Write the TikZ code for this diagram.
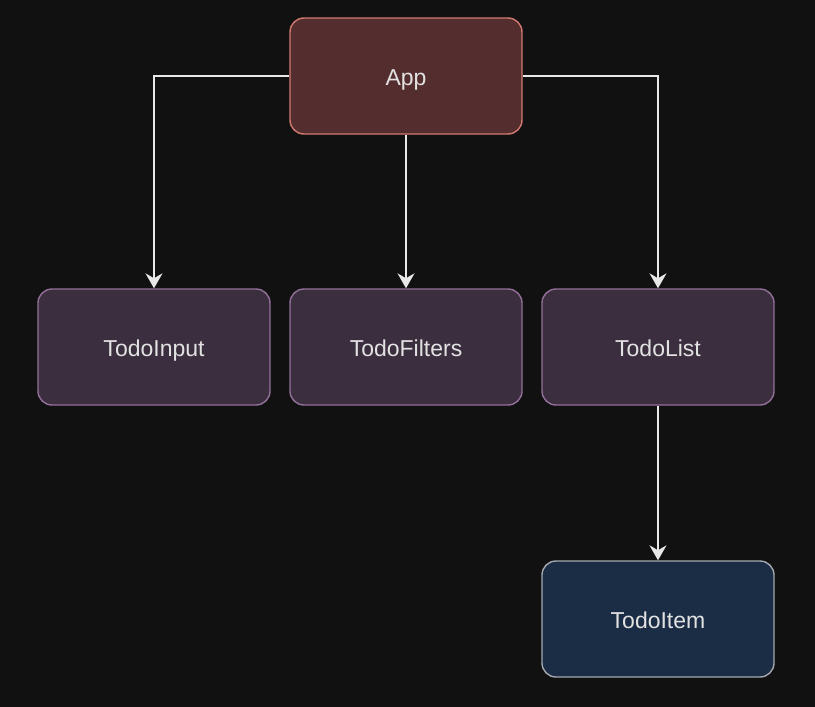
\documentclass[tikz,border=0pt]{standalone}
\usepackage{fontspec}
\setmainfont{Liberation Sans}
\usetikzlibrary{arrows.meta}
\definecolor{bgcol}{HTML}{111111}
\definecolor{appfill}{HTML}{542E2E}
\definecolor{appline}{HTML}{D27A70}
\definecolor{compfill}{HTML}{3B2F3F}
\definecolor{compline}{HTML}{937099}
\definecolor{itemfill}{HTML}{1B2D45}
\definecolor{itemline}{HTML}{A4A8AE}
\definecolor{txtcol}{HTML}{E2E2E2}
\definecolor{wirecol}{HTML}{E8E8E8}
\tikzset{
	comp/.style={draw, line width=1.4pt, rounded corners=14pt, minimum width=232pt, minimum height=116pt, text=txtcol, font=\fontsize{23}{27}\selectfont, text height=19pt, text depth=0pt},
	wire/.style={draw=wirecol, line width=1.4pt, -{Stealth[length=15pt,width=17pt,inset=5pt]}}
}
\begin{document}
\begin{tikzpicture}[x=1pt,y=-1pt]
					\fill [bgcol] (0,0) rectangle (815,707);
					\useasboundingbox (0,0) rectangle (815,707);
					% boxes
					\node [comp, fill=appfill, draw=appline] (app) at (406,76) {App};
					\node [comp, fill=compfill, draw=compline] (input) at (154,347) {TodoInput};
					\node [comp, fill=compfill, draw=compline] (filters) at (406,347) {TodoFilters};
					\node [comp, fill=compfill, draw=compline] (list) at (658,347) {TodoList};
					\node [comp, fill=itemfill, draw=itemline] (item) at (658,619) {TodoItem};
					% links
					\draw [wire] (app.west) -| (input.north);
					\draw [wire] (app.south) -- (filters.north);
					\draw [wire] (app.east) -| (list.north);
					\draw [wire] (list.south) -- (item.north);
\end{tikzpicture}
\end{document}
